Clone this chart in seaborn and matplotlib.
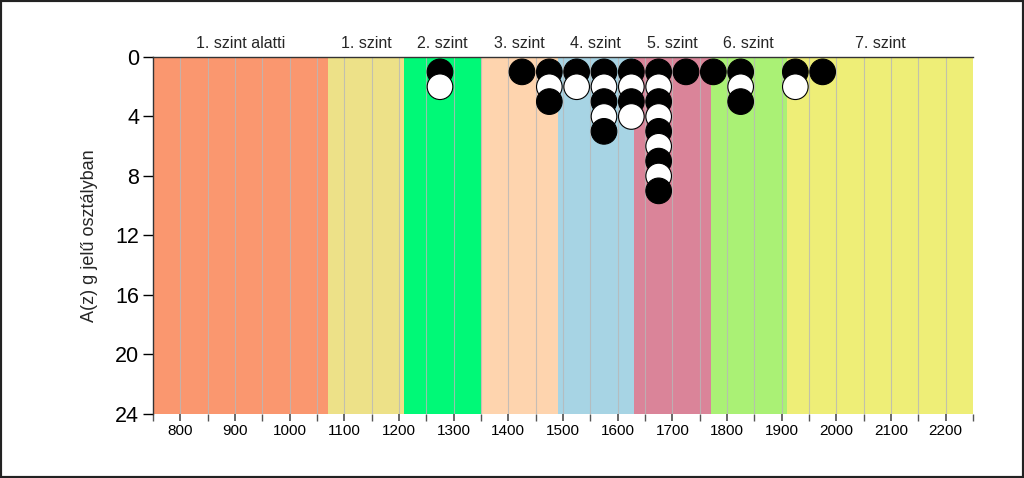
import matplotlib
matplotlib.use("Agg")
import matplotlib.pyplot as plt
import seaborn as sns
import numpy as np
import pandas as pd
from matplotlib.patches import Rectangle

# ---- data ----
band_edges = [750, 1070, 1210, 1350, 1490, 1630, 1770, 1910, 2250]
band_labels = ["1. szint alatti", "1. szint", "2. szint", "3. szint",
               "4. szint", "5. szint", "6. szint", "7. szint"]
band_colors = ["#FA976F", "#EDE188", "#00F977", "#FED4AE",
               "#A7D4E4", "#DA8499", "#AAF175", "#EEEE77"]
point_x = [1275, 1425, 1475, 1525, 1575, 1625, 1675, 1725, 1775, 1825, 1925, 1975]
point_counts = [2, 1, 3, 2, 5, 4, 9, 1, 1, 3, 2, 1]
x_ticks = [800, 900, 1000, 1100, 1200, 1300, 1400, 1500, 1600, 1700,
           1800, 1900, 2000, 2100, 2200]
y_ticks = [0, 4, 8, 12, 16, 20, 24]
y_label = "A(z) g jelű osztályban"

rows = []
for x, n in zip(point_x, point_counts):
    for k in range(1, n + 1):
        rows.append({"x": x, "y": k, "c": "B" if k % 2 == 1 else "W"})
df = pd.DataFrame(rows)

sns.set_theme(style="white")
plt.rcParams["font.family"] = ["Liberation Sans", "DejaVu Sans"]

fig = plt.figure(figsize=(10.24, 4.78), dpi=100)
fig.patches.append(Rectangle((0, 0), 1, 1, transform=fig.transFigure,
                             fill=False, edgecolor="#222222", linewidth=3))
ax = fig.add_axes([0.1494, 0.1339, 0.8008, 0.7469])

for i in range(len(band_labels)):
    ax.axvspan(band_edges[i], band_edges[i + 1], color=band_colors[i], lw=0, zorder=0)
for gx in np.arange(800, 2250, 50):
    ax.axvline(gx, color="#B8B8B8", lw=0.8, alpha=0.8, zorder=1)

sns.scatterplot(data=df, x="x", y="y", hue="c",
                palette={"B": "black", "W": "white"},
                s=340, edgecolor="black", linewidth=0.8,
                legend=False, ax=ax, zorder=3, clip_on=False)

ax.set_xlim(750, 2250)
ax.set_ylim(24, 0)
ax.set_xticks(x_ticks)
ax.set_xticks(np.arange(750, 2251, 50), minor=True)
ax.set_yticks(y_ticks)
ax.tick_params(axis="x", which="both", bottom=True, top=True, length=5, color="#555555",
               labelsize=11, pad=2, labelcolor="black")
ax.tick_params(axis="y", left=True, length=7, width=1, labelsize=15.5, pad=3,
               colors="black")
ax.set_xlabel("")
ax.set_ylabel(y_label, fontsize=13, labelpad=12)

for side in ["right", "bottom"]:
    ax.spines[side].set_visible(False)
ax.spines["left"].set_color("#333333")
ax.spines["left"].set_linewidth(1.0)
ax.spines["top"].set_color("#333333")
ax.spines["top"].set_linewidth(1.0)

top = ax.twiny()
top.set_xlim(750, 2250)
centers = [(band_edges[i] + band_edges[i + 1]) / 2 for i in range(len(band_labels))]
top.set_xticks(centers)
top.set_xticklabels(band_labels)
top.tick_params(axis="x", which="major", top=True, length=0, labelsize=11.5, pad=4)
for side in ["right", "bottom", "left", "top"]:
    top.spines[side].set_visible(False)

fig.savefig("out.png", dpi=100)
